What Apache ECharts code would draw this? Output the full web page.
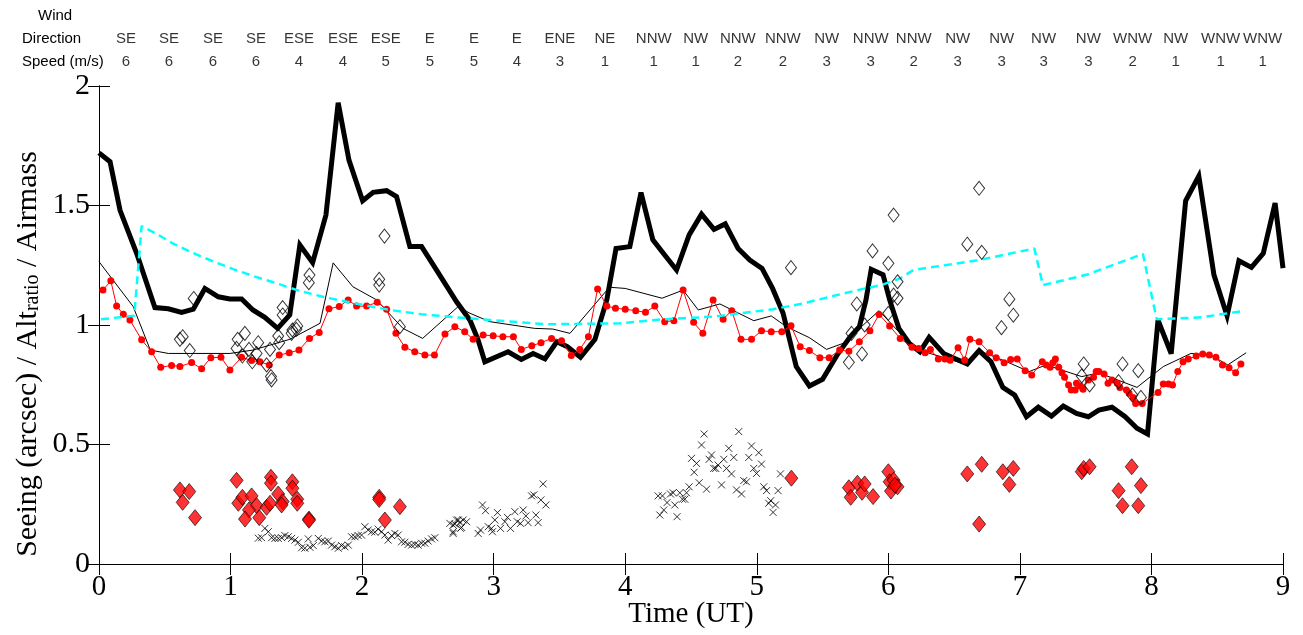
<!DOCTYPE html>
<html>
<head>
<meta charset="utf-8">
<script src="https://cdn.jsdelivr.net/npm/echarts@6/dist/echarts.min.js"></script>
<style>
html,body{margin:0;padding:0;background:#fff;}
#chart{width:1303px;height:635px;}
</style>
</head>
<body>
<div id="chart"></div>
<script>
// ---- Wind annotation (top rows) ----
const windTimes = [0.205,0.532,0.866,1.193,1.52,1.854,2.18,2.515,2.85,3.176,3.503,3.845,4.217,4.536,4.856,5.198,5.532,5.866,6.193,6.527,6.862,7.18,7.52,7.857,8.184,8.526,8.845];
const windDirs = ['SE','SE','SE','SE','ESE','ESE','ESE','E','E','E','ENE','NE','NNW','NW','NNW','NNW','NW','NNW','NNW','NW','NW','NW','NW','WNW','NW','WNW','WNW'];
const windSpeeds = [6,6,6,6,4,4,5,5,5,4,3,1,1,1,2,2,3,3,2,3,3,3,3,2,1,1,1];
const windRows = ['Wind','Direction','Speed (m/s)'];

// ---- Axis ticks ----
const xTicks = [0,1,2,3,4,5,6,7,8,9];
const yTicks = [0,0.5,1,1.5,2];

// ---- Series: [time (UT), value] ----
const thickSeeing = [[0.0,1.72],[0.084,1.683],[0.16,1.48],[0.286,1.30],[0.425,1.073],[0.527,1.068],[0.628,1.053],[0.717,1.066],[0.805,1.153],[0.907,1.118],[0.995,1.109],[1.084,1.109],[1.17,1.063],[1.26,1.032],[1.358,0.986],[1.45,1.042],[1.527,1.335],[1.624,1.261],[1.725,1.46],[1.818,1.93],[1.90,1.69],[2.004,1.52],[2.084,1.555],[2.186,1.562],[2.262,1.537],[2.363,1.328],[2.452,1.328],[2.566,1.23],[2.718,1.097],[2.82,1.02],[2.88,0.94],[2.933,0.846],[3.11,0.888],[3.21,0.856],[3.30,0.881],[3.39,0.858],[3.48,0.93],[3.56,0.909],[3.66,0.865],[3.77,0.94],[3.86,1.105],[3.93,1.32],[4.035,1.328],[4.12,1.554],[4.21,1.356],[4.30,1.293],[4.39,1.23],[4.486,1.377],[4.58,1.464],[4.675,1.40],[4.76,1.423],[4.858,1.32],[4.947,1.272],[5.04,1.237],[5.12,1.153],[5.20,1.049],[5.30,0.826],[5.40,0.745],[5.50,0.773],[5.61,0.874],[5.71,0.951],[5.78,0.993],[5.83,1.105],[5.87,1.233],[5.96,1.21],[6.01,1.105],[6.08,0.986],[6.16,0.923],[6.24,0.888],[6.31,0.948],[6.42,0.881],[6.50,0.861],[6.60,0.837],[6.69,0.893],[6.78,0.846],[6.87,0.739],[6.96,0.707],[7.05,0.616],[7.14,0.656],[7.24,0.619],[7.33,0.661],[7.43,0.63],[7.52,0.616],[7.60,0.644],[7.70,0.656],[7.80,0.616],[7.89,0.568],[7.97,0.544],[8.05,1.02],[8.15,0.88],[8.26,1.52],[8.36,1.623],[8.475,1.21],[8.575,1.038],[8.665,1.269],[8.76,1.241],[8.85,1.30],[8.94,1.51],[9.0,1.238]];

const thinSeeing = [[0.0,1.265],[0.26,1.077],[0.39,0.895],[0.527,0.881],[0.995,0.881],[1.17,0.895],[1.45,0.94],[1.68,1.007],[1.78,1.26],[1.93,1.16],[2.11,1.105],[2.31,0.986],[2.46,0.944],[2.73,1.077],[2.82,1.049],[2.97,1.014],[3.31,0.986],[3.45,0.983],[3.58,0.965],[3.88,1.158],[4.0,1.153],[4.28,1.112],[4.44,1.146],[4.555,1.063],[4.72,1.088],[4.977,1.018],[5.11,1.038],[5.225,0.993],[5.40,0.947],[5.53,0.898],[5.655,0.923],[5.93,1.06],[6.2,0.9],[6.44,0.861],[6.60,0.833],[6.68,0.895],[6.90,0.846],[7.07,0.805],[7.20,0.833],[7.47,0.784],[7.60,0.80],[7.89,0.739],[8.09,0.826],[8.30,0.881],[8.45,0.874],[8.58,0.833],[8.72,0.884]];

const redSeeing = [[0.03,1.146],[0.09,1.185],[0.134,1.079],[0.185,1.045],[0.235,1.021],[0.324,0.938],[0.40,0.888],[0.469,0.823],[0.552,0.831],[0.615,0.826],[0.704,0.843],[0.78,0.817],[0.85,0.863],[0.927,0.865],[0.995,0.812],[1.084,0.865],[1.16,0.851],[1.223,0.846],[1.294,0.833],[1.37,0.874],[1.446,0.884],[1.52,0.895],[1.60,0.944],[1.674,0.969],[1.748,1.068],[1.826,1.077],[1.894,1.105],[1.958,1.079],[2.034,1.079],[2.115,1.095],[2.186,1.066],[2.257,0.965],[2.325,0.907],[2.40,0.888],[2.477,0.874],[2.55,0.874],[2.63,0.962],[2.705,0.993],[2.78,0.972],[2.844,0.94],[2.92,0.958],[2.996,0.955],[3.07,0.951],[3.15,0.951],[3.21,0.898],[3.29,0.913],[3.36,0.926],[3.44,0.944],[3.516,0.934],[3.59,0.872],[3.655,0.898],[3.72,0.951],[3.79,1.151],[3.86,1.079],[3.926,1.07],[4.00,1.066],[4.08,1.06],[4.154,1.053],[4.225,1.079],[4.30,1.014],[4.37,1.018],[4.44,1.146],[4.52,1.011],[4.59,0.965],[4.668,1.105],[4.744,1.024],[4.81,1.06],[4.88,0.94],[4.96,0.94],[5.036,0.976],[5.11,0.972],[5.19,0.972],[5.26,0.997],[5.33,0.909],[5.40,0.893],[5.48,0.863],[5.55,0.863],[5.63,0.895],[5.70,0.89],[5.78,0.93],[5.86,0.976],[5.93,1.044],[6.01,0.996],[6.09,0.944],[6.18,0.907],[6.23,0.902],[6.28,0.884],[6.32,0.898],[6.38,0.858],[6.43,0.858],[6.47,0.852],[6.53,0.905],[6.58,0.854],[6.62,0.94],[6.69,0.93],[6.77,0.884],[6.82,0.863],[6.88,0.842],[6.93,0.856],[6.98,0.858],[7.04,0.809],[7.09,0.791],[7.17,0.846],[7.20,0.833],[7.23,0.823],[7.25,0.842],[7.27,0.858],[7.295,0.823],[7.32,0.80],[7.34,0.781],[7.37,0.749],[7.39,0.728],[7.42,0.728],[7.43,0.756],[7.46,0.745],[7.48,0.731],[7.52,0.77],[7.56,0.781],[7.58,0.805],[7.60,0.805],[7.64,0.795],[7.67,0.756],[7.70,0.77],[7.74,0.756],[7.76,0.739],[7.81,0.728],[7.83,0.714],[7.86,0.697],[7.88,0.672],[7.93,0.672],[8.05,0.718],[8.09,0.753],[8.13,0.753],[8.16,0.749],[8.20,0.805],[8.24,0.846],[8.28,0.858],[8.34,0.87],[8.39,0.879],[8.44,0.874],[8.49,0.865],[8.54,0.833],[8.59,0.821],[8.64,0.80],[8.68,0.837]];

const airmass = [[0.015,1.024],[0.268,1.039],[0.324,1.414],[0.438,1.381],[0.56,1.342],[0.69,1.307],[0.85,1.27],[1.02,1.234],[1.17,1.205],[1.325,1.179],[1.5,1.147],[1.7,1.118],[1.95,1.09],[2.21,1.063],[2.45,1.045],[2.718,1.032],[2.97,1.021],[3.4,1.003],[3.96,1.007],[4.29,1.024],[4.668,1.035],[5.124,1.066],[5.35,1.09],[5.555,1.118],[5.8,1.15],[5.947,1.167],[6.09,1.195],[6.19,1.23],[6.69,1.272],[7.11,1.32],[7.175,1.167],[7.505,1.21],[7.935,1.297],[8.04,1.024],[8.38,1.032],[8.71,1.06]];

const openDiamonds = [[0.615,0.94],[0.636,0.951],[0.69,0.893],[0.72,1.111],[1.046,0.902],[1.054,0.94],[1.09,0.87],[1.109,0.965],[1.14,0.898],[1.165,0.846],[1.198,0.881],[1.21,0.926],[1.274,0.833],[1.30,0.898],[1.307,0.784],[1.312,0.77],[1.362,0.954],[1.37,0.926],[1.396,1.073],[1.396,1.042],[1.464,0.965],[1.47,0.979],[1.50,0.982],[1.507,0.996],[1.595,1.177],[1.60,1.209],[2.13,1.191],[2.13,1.167],[2.17,1.372],[2.287,0.993],[5.26,1.24],[5.70,0.844],[5.72,0.965],[5.76,1.088],[5.80,0.879],[5.82,1.0],[5.88,1.31],[6.0,1.258],[6.0,1.049],[6.04,1.46],[6.04,1.125],[6.07,1.112],[6.07,1.181],[6.60,1.338],[6.69,1.572],[6.71,1.304],[6.86,0.989],[6.92,1.108],[6.95,1.041],[7.47,0.787],[7.485,0.837],[7.53,0.749],[7.75,0.763],[7.78,0.837],[7.855,0.707],[7.90,0.809],[7.92,0.697]];

const redDiamonds = [[0.615,0.31],[0.686,0.303],[0.636,0.258],[0.73,0.194],[1.046,0.35],[1.059,0.254],[1.09,0.279],[1.16,0.285],[1.198,0.244],[1.14,0.226],[1.11,0.188],[1.218,0.194],[1.274,0.237],[1.30,0.254],[1.307,0.363],[1.307,0.338],[1.362,0.293],[1.396,0.261],[1.388,0.247],[1.47,0.344],[1.47,0.317],[1.507,0.271],[1.507,0.254],[1.596,0.188],[1.596,0.183],[2.13,0.279],[2.13,0.27],[2.173,0.184],[2.287,0.24],[5.263,0.359],[5.70,0.319],[5.714,0.279],[5.765,0.338],[5.80,0.30],[5.82,0.335],[5.884,0.282],[6.0,0.386],[6.01,0.344],[6.04,0.351],[6.02,0.305],[6.07,0.323],[6.05,0.33],[6.60,0.377],[6.71,0.417],[6.69,0.167],[6.87,0.386],[6.95,0.40],[6.92,0.333],[7.47,0.386],[7.485,0.40],[7.53,0.407],[7.85,0.407],[7.75,0.307],[7.92,0.328],[7.78,0.244],[7.90,0.244]];

const crosses = [[1.211,0.108],[1.236,0.110],[1.261,0.149],[1.287,0.135],[1.312,0.110],[1.337,0.107],[1.363,0.107],[1.388,0.110],[1.413,0.119],[1.439,0.114],[1.464,0.107],[1.489,0.100],[1.515,0.091],[1.540,0.068],[1.565,0.066],[1.591,0.105],[1.603,0.070],[1.629,0.077],[1.667,0.107],[1.692,0.096],[1.717,0.093],[1.743,0.096],[1.768,0.079],[1.793,0.072],[1.819,0.066],[1.844,0.077],[1.869,0.072],[1.895,0.079],[1.920,0.114],[1.945,0.114],[1.970,0.119],[1.996,0.121],[2.021,0.156],[2.046,0.142],[2.072,0.135],[2.097,0.133],[2.122,0.146],[2.148,0.135],[2.173,0.121],[2.198,0.100],[2.224,0.119],[2.249,0.128],[2.274,0.121],[2.300,0.093],[2.325,0.091],[2.350,0.082],[2.376,0.079],[2.401,0.082],[2.426,0.079],[2.452,0.087],[2.477,0.087],[2.502,0.096],[2.528,0.105],[2.553,0.110],[2.667,0.170],[2.692,0.163],[2.718,0.184],[2.743,0.174],[2.768,0.184],[2.794,0.177],[2.748,0.149],[2.692,0.135],[2.692,0.128],[2.705,0.167],[2.731,0.184],[2.756,0.153],[2.882,0.128],[2.900,0.142],[2.915,0.247],[2.938,0.223],[2.959,0.156],[2.984,0.149],[2.991,0.135],[3.009,0.184],[3.029,0.215],[3.052,0.149],[3.085,0.177],[3.105,0.195],[3.128,0.149],[3.161,0.219],[3.179,0.177],[3.204,0.170],[3.224,0.226],[3.245,0.201],[3.262,0.173],[3.288,0.285],[3.305,0.289],[3.321,0.205],[3.338,0.173],[3.359,0.268],[3.397,0.247],[3.376,0.335],[4.250,0.285],[4.283,0.285],[4.263,0.205],[4.293,0.226],[4.318,0.257],[4.344,0.293],[4.364,0.298],[4.377,0.247],[4.394,0.198],[4.415,0.298],[4.435,0.271],[4.453,0.271],[4.466,0.298],[4.486,0.323],[4.524,0.384],[4.504,0.442],[4.542,0.421],[4.562,0.340],[4.580,0.498],[4.600,0.544],[4.618,0.313],[4.638,0.438],[4.656,0.456],[4.673,0.400],[4.688,0.400],[4.706,0.414],[4.732,0.331],[4.749,0.438],[4.770,0.400],[4.787,0.484],[4.808,0.377],[4.825,0.446],[4.846,0.310],[4.863,0.554],[4.884,0.293],[4.901,0.349],[4.922,0.344],[4.939,0.446],[4.960,0.494],[4.977,0.400],[4.998,0.379],[5.015,0.466],[5.036,0.418],[5.053,0.323],[5.074,0.307],[5.091,0.254],[5.106,0.265],[5.124,0.216],[5.142,0.247],[5.162,0.307],[5.180,0.377]];

const serif = "'Liberation Serif','Times New Roman',serif";
const sans = "'Liberation Sans',Arial,sans-serif";

const chart = echarts.init(document.getElementById('chart'), null, {renderer:'canvas'});

const boxAxisLine = {show:true, lineStyle:{color:'#000', width:1}};
const tickIn = {show:true, inside:true, length:11, lineStyle:{color:'#000', width:1}};

const option = {
  animation:false,
  backgroundColor:'#fff',
  grid:[
    {left:99, right:20, top:86, bottom:71, containLabel:false, outerBoundsMode:'none'},
    {left:99, right:20, top:4, height:69, containLabel:false, outerBoundsMode:'none'}
  ],
  xAxis:[
    {gridIndex:0, type:'value', min:xTicks[0], max:xTicks[xTicks.length-1], interval:1,
     axisLine:boxAxisLine, axisTick:tickIn, splitLine:{show:false},
     axisLabel:{color:'#000', fontFamily:serif, fontSize:29, margin:9},
     name:'Time (UT)', nameLocation:'middle', nameGap:36, nameMoveOverlap:false,
     nameTextStyle:{color:'#000', fontFamily:serif, fontSize:29}},
    {gridIndex:0, type:'value', position:'top', min:0, max:9, interval:1,
     axisLine:boxAxisLine, axisTick:tickIn, axisLabel:{show:false}, splitLine:{show:false}},
    {gridIndex:1, type:'value', min:0, max:9, show:false}
  ],
  yAxis:[
    {gridIndex:0, type:'value', min:yTicks[0], max:yTicks[yTicks.length-1], interval:0.5,
     axisLine:boxAxisLine, axisTick:tickIn, splitLine:{show:false},
     axisLabel:{color:'#000', fontFamily:serif, fontSize:30, margin:9},
     name:'{a|Seeing (arcsec) / Alt}{s|ratio}{a| / Airmass}',
     nameLocation:'middle', nameGap:56, nameRotate:90, nameMoveOverlap:false,
     nameTextStyle:{
       color:'#000', fontFamily:serif, fontSize:30, padding:[0,58,0,0],
       rich:{
         a:{fontFamily:serif, fontSize:30, color:'#000', lineHeight:30, verticalAlign:'middle'},
         s:{fontFamily:serif, fontSize:20, color:'#000', lineHeight:20, verticalAlign:'bottom', padding:[22,0,0,0]}
       }
     }},
    {gridIndex:0, type:'value', position:'right', min:0, max:2, interval:0.5,
     axisLine:boxAxisLine, axisTick:tickIn, axisLabel:{show:false}, splitLine:{show:false}},
    {gridIndex:1, type:'category', data:windRows, inverse:true,
     axisLine:{show:false}, axisTick:{show:false}, splitLine:{show:false},
     axisLabel:{align:'left', margin:77, color:'#000', fontFamily:sans, fontSize:15,
       formatter:function(v){ return v==='Wind' ? '{w|'+v+'}' : v; },
       rich:{w:{fontFamily:sans, fontSize:15, color:'#000', padding:[0,0,0,16]}}}}
  ],
  series:[
    {type:'line', name:'thick', xAxisIndex:0, yAxisIndex:0, data:thickSeeing, symbol:'none',
     lineStyle:{color:'#000', width:5, join:'miter', miterLimit:4}, z:2},
    {type:'line', name:'thin', xAxisIndex:0, yAxisIndex:0, data:thinSeeing, symbol:'none',
     lineStyle:{color:'#000', width:1}, z:3},
    {type:'line', name:'red', xAxisIndex:0, yAxisIndex:0, data:redSeeing, symbol:'circle', symbolSize:7,
     showAllSymbol:true, itemStyle:{color:'#ff0000'}, lineStyle:{color:'#ff0000', width:1}, z:4},
    {type:'line', name:'airmass', xAxisIndex:0, yAxisIndex:0, data:airmass, symbol:'none',
     lineStyle:{color:'#00ffff', width:2.5, type:[8,5]}, z:5},
    {type:'scatter', name:'open', xAxisIndex:0, yAxisIndex:0, data:openDiamonds, symbol:'diamond', symbolSize:[11,14],
     itemStyle:{color:'rgba(0,0,0,0)', borderColor:'#000', borderWidth:1}, z:6},
    {type:'scatter', name:'reddiam', xAxisIndex:0, yAxisIndex:0, data:redDiamonds, symbol:'diamond', symbolSize:[13,16],
     itemStyle:{color:'#ff0000', borderColor:'#000', borderWidth:0.8}, z:7},
    {type:'scatter', name:'cross', xAxisIndex:0, yAxisIndex:0, data:crosses, symbol:'path://M0,0L10,10M10,0L0,10', symbolSize:7,
     itemStyle:{color:'none', borderColor:'#000', borderWidth:1}, z:6},
    {type:'scatter', name:'dir', xAxisIndex:2, yAxisIndex:2, symbolSize:0, silent:true,
     data:windTimes.map(function(t){ return [t, windRows[1]]; }),
     label:{show:true, position:'inside', color:'#000', fontFamily:sans, fontSize:15,
       formatter:function(p){ return windDirs[p.dataIndex]; }}},
    {type:'scatter', name:'spd', xAxisIndex:2, yAxisIndex:2, symbolSize:0, silent:true,
     data:windTimes.map(function(t){ return [t, windRows[2]]; }),
     label:{show:true, position:'inside', color:'#000', fontFamily:sans, fontSize:15,
       formatter:function(p){ return String(windSpeeds[p.dataIndex]); }}}
  ]
};
chart.setOption(option);
</script>
</body>
</html>
